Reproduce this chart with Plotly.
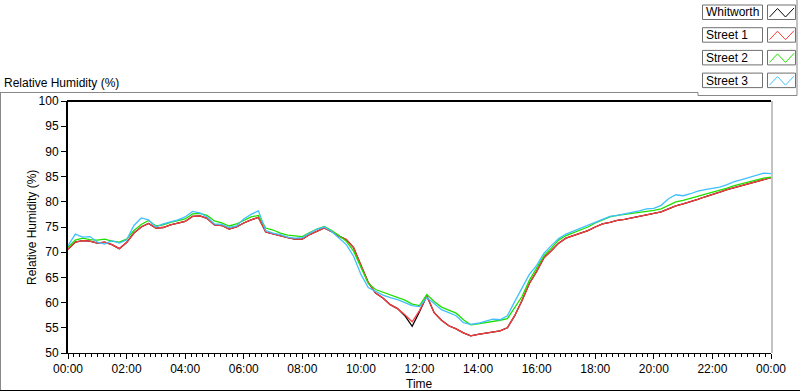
import plotly.graph_objects as go

# ---- data (15-minute samples, 00:00 .. 24:00) ----
hours = [i * 0.25 for i in range(97)]

whitworth = [70.6, 72.0, 72.3, 72.2, 71.8, 72.0, 71.5, 70.7, 71.9, 73.8, 75.0, 75.7, 74.8, 74.9, 75.4, 75.8,
             76.1, 77.1, 77.2, 76.7, 75.4, 75.3, 74.6, 75.0, 75.8, 76.4, 76.9, 74.0, 73.6, 73.2, 72.9, 72.6,
             72.6, 73.5, 74.2, 74.8, 74.1, 73.2, 72.5, 70.9, 67.4, 64.0, 61.9, 60.9, 59.6, 58.8, 57.4, 55.3,
             58.2, 61.3, 58.0, 56.5, 55.4, 54.8, 54.0, 53.4, 53.7, 53.9, 54.2, 54.4, 55.0, 57.4, 60.4, 63.8,
             66.2, 68.9, 70.3, 71.8, 72.8, 73.3, 73.9, 74.3, 75.0, 75.6, 75.9, 76.3, 76.5, 76.8, 77.1, 77.4,
             77.6, 78.0, 78.6, 79.2, 79.6, 80.0, 80.5, 81.0, 81.4, 81.9, 82.4, 82.8, 83.3, 83.7, 84.1, 84.5, 84.8]

street1 = [70.6, 72.0, 72.3, 72.2, 71.8, 72.0, 71.5, 70.7, 71.9, 73.8, 75.0, 75.7, 74.8, 74.9, 75.4, 75.8,
           76.1, 77.1, 77.2, 76.7, 75.4, 75.3, 74.6, 75.0, 75.8, 76.4, 76.9, 74.0, 73.6, 73.2, 72.9, 72.6,
           72.6, 73.5, 74.2, 74.8, 74.1, 73.2, 72.5, 70.9, 67.4, 64.0, 61.9, 60.9, 59.6, 58.8, 57.6, 56.2,
           58.4, 61.3, 58.0, 56.5, 55.4, 54.8, 54.0, 53.4, 53.7, 53.9, 54.2, 54.4, 55.0, 57.4, 60.4, 63.8,
           66.2, 68.9, 70.3, 71.8, 72.8, 73.3, 73.9, 74.3, 75.0, 75.6, 75.9, 76.3, 76.5, 76.8, 77.1, 77.4,
           77.6, 78.0, 78.6, 79.2, 79.6, 80.0, 80.5, 81.0, 81.4, 81.9, 82.4, 82.8, 83.3, 83.7, 84.1, 84.5, 84.8]

street2 = [71.0, 72.4, 72.8, 72.5, 72.4, 72.6, 72.2, 72.0, 72.6, 74.3, 75.5, 76.3, 75.2, 75.4, 75.9, 76.2,
           76.6, 77.6, 77.7, 77.3, 76.2, 75.8, 75.2, 75.6, 76.3, 77.0, 77.3, 74.8, 74.4, 73.8, 73.4, 73.2,
           73.1, 73.9, 74.6, 75.1, 74.3, 73.3, 72.2, 70.2, 67.0, 63.8, 62.6, 62.1, 61.5, 61.0, 60.5, 59.7,
           59.4, 61.6, 60.2, 59.1, 58.5, 57.9, 56.6, 55.6, 55.8, 56.0, 56.3, 56.5, 56.8, 58.9, 61.2, 64.4,
           66.8, 69.3, 70.8, 72.4, 73.3, 73.9, 74.4, 75.0, 75.8, 76.4, 77.0, 77.3, 77.5, 77.6, 77.8, 78.0,
           78.3, 78.6, 79.3, 80.0, 80.3, 80.7, 81.1, 81.5, 81.8, 82.2, 82.7, 83.2, 83.6, 84.0, 84.4, 84.7, 84.9]

street3 = [71.3, 73.6, 73.0, 73.1, 72.0, 71.6, 72.3, 71.8, 72.4, 75.3, 76.8, 76.4, 75.0, 75.6, 76.0, 76.4,
           77.0, 78.1, 77.8, 77.0, 75.6, 75.5, 74.9, 75.2, 76.6, 77.5, 78.2, 74.3, 73.8, 73.5, 73.0, 72.8,
           72.9, 73.8, 74.6, 75.0, 74.1, 72.8, 71.5, 69.2, 65.6, 63.0, 62.2, 61.5, 61.0, 60.6, 60.0, 59.4,
           59.2, 61.0, 59.8, 58.6, 58.0, 57.4, 56.0, 55.7, 55.9, 56.3, 56.7, 56.6, 57.4, 60.2, 62.9, 65.6,
           67.4, 69.8, 71.3, 72.7, 73.6, 74.2, 74.8, 75.4, 76.0, 76.6, 77.1, 77.3, 77.6, 77.8, 78.2, 78.6,
           78.7, 79.3, 80.6, 81.4, 81.2, 81.6, 82.1, 82.4, 82.6, 82.9, 83.4, 84.0, 84.4, 84.8, 85.3, 85.7, 85.6]

series_names = ["Whitworth", "Street 1", "Street 2", "Street 3"]
series_colors = ["#000000", "#ff3c3c", "#1ee000", "#40bfff"]
series_values = [whitworth, street1, street2, street3]

x_tick_vals = [0, 2, 4, 6, 8, 10, 12, 14, 16, 18, 20, 22, 24]
x_tick_text = ["00:00", "02:00", "04:00", "06:00", "08:00", "10:00", "12:00",
               "14:00", "16:00", "18:00", "20:00", "22:00", "00:00"]
y_tick_vals = [50, 55, 60, 65, 70, 75, 80, 85, 90, 95, 100]

W, H = 800, 392
FONT = "Liberation Sans, Arial, sans-serif"


def px(x):
    return x / W


def py(y):
    return 1 - y / H


fig = go.Figure()
for name, color, vals in zip(series_names, series_colors, series_values):
    fig.add_trace(go.Scatter(x=hours, y=vals, mode="lines", name=name,
                             line=dict(color=color, width=1.3), showlegend=False))

shapes = []
ann = []
# plot top (thick black) and right (gray) borders
shapes.append(dict(type="line", xref="paper", yref="paper", x0=px(67), x1=px(771), y0=py(101), y1=py(101),
                   line=dict(color="black", width=2)))
shapes.append(dict(type="line", xref="paper", yref="paper", x0=px(772), x1=px(772), y0=py(101), y1=py(353),
                   line=dict(color="#888888", width=1)))
# outer frame
shapes.append(dict(type="line", xref="paper", yref="paper", x0=0, x1=px(698), y0=py(92.5), y1=py(92.5),
                   line=dict(color="#888888", width=1)))
shapes.append(dict(type="line", xref="paper", yref="paper", x0=px(0.5), x1=px(0.5), y0=py(92.5), y1=py(390.5),
                   line=dict(color="#888888", width=1)))
shapes.append(dict(type="line", xref="paper", yref="paper", x0=0, x1=1, y0=py(390.5), y1=py(390.5),
                   line=dict(color="black", width=1)))
shapes.append(dict(type="line", xref="paper", yref="paper", x0=px(698), x1=px(698), y0=py(92.5), y1=py(95.5),
                   line=dict(color="#888888", width=1)))
shapes.append(dict(type="line", xref="paper", yref="paper", x0=px(698), x1=px(797), y0=py(95.5), y1=py(95.5),
                   line=dict(color="#888888", width=1)))
shapes.append(dict(type="line", xref="paper", yref="paper", x0=px(797), x1=px(797), y0=py(0), y1=py(95.5),
                   line=dict(color="#888888", width=1)))

# custom legend
for i, (name, color) in enumerate(zip(series_names, series_colors)):
    top = 5 + 22.7 * i
    bot = top + 14.5
    shapes.append(dict(type="rect", xref="paper", yref="paper", x0=px(702.5), x1=px(762.5), y0=py(top), y1=py(bot),
                       line=dict(color="#707070", width=1), fillcolor="white"))
    shapes.append(dict(type="rect", xref="paper", yref="paper", x0=px(767.5), x1=px(795.5), y0=py(top), y1=py(bot),
                       line=dict(color="#707070", width=1), fillcolor="white"))
    path = "M {} {} L {} {} L {} {} L {} {}".format(
        px(769.5), py(top + 12), px(777.5), py(top + 3.5), px(785.5), py(top + 12), px(794), py(top + 3))
    shapes.append(dict(type="path", xref="paper", yref="paper", path=path,
                       line=dict(color=color, width=1)))
    ann.append(dict(xref="paper", yref="paper", x=px(704), y=py(top + 7.5), text=name, showarrow=False,
                    xanchor="left", yanchor="middle", font=dict(family=FONT, size=12, color="black")))

ann.append(dict(xref="paper", yref="paper", x=px(2), y=py(83), text="Relative Humidity (%)", showarrow=False,
                xanchor="left", yanchor="middle", font=dict(family=FONT, size=12, color="black")))
ann.append(dict(xref="paper", yref="paper", x=px(32), y=py(228), text="Relative Humidity (%)", showarrow=False,
                textangle=-90, xanchor="center", yanchor="middle",
                font=dict(family=FONT, size=12, color="black")))
ann.append(dict(xref="paper", yref="paper", x=px(419), y=py(384), text="Time", showarrow=False,
                xanchor="center", yanchor="middle", font=dict(family=FONT, size=12, color="black")))

fig.update_layout(
    width=W, height=H,
    margin=dict(l=0, r=0, t=0, b=0),
    paper_bgcolor="white", plot_bgcolor="white",
    font=dict(family=FONT, size=12, color="black"),
    shapes=shapes, annotations=ann,
    xaxis=dict(domain=[px(68), px(771)], range=[0, 24], tickmode="array", tickvals=x_tick_vals,
               ticktext=x_tick_text, ticks="outside", ticklen=5, tickwidth=1, tickcolor="black",
               showline=True, linecolor="black", linewidth=1, showgrid=False, zeroline=False,
               minor=dict(dtick=0.2, ticks="outside", ticklen=3, tickwidth=1, tickcolor="black", showgrid=False),
               tickfont=dict(family=FONT, size=12, color="black"), automargin=False, fixedrange=True),
    yaxis=dict(domain=[py(353), py(101)], range=[50, 100], tickmode="array", tickvals=y_tick_vals,
               ticks="outside", ticklen=5, tickwidth=1, tickcolor="black",
               showline=True, linecolor="black", linewidth=2, showgrid=False, zeroline=False,
               tickfont=dict(family=FONT, size=12, color="black"), automargin=False, fixedrange=True),
)

fig.write_html("out.html", config={"displayModeBar": False},
               post_script="document.body.style.margin='0';document.body.style.padding='0';"
                           "document.body.style.overflow='hidden';")
